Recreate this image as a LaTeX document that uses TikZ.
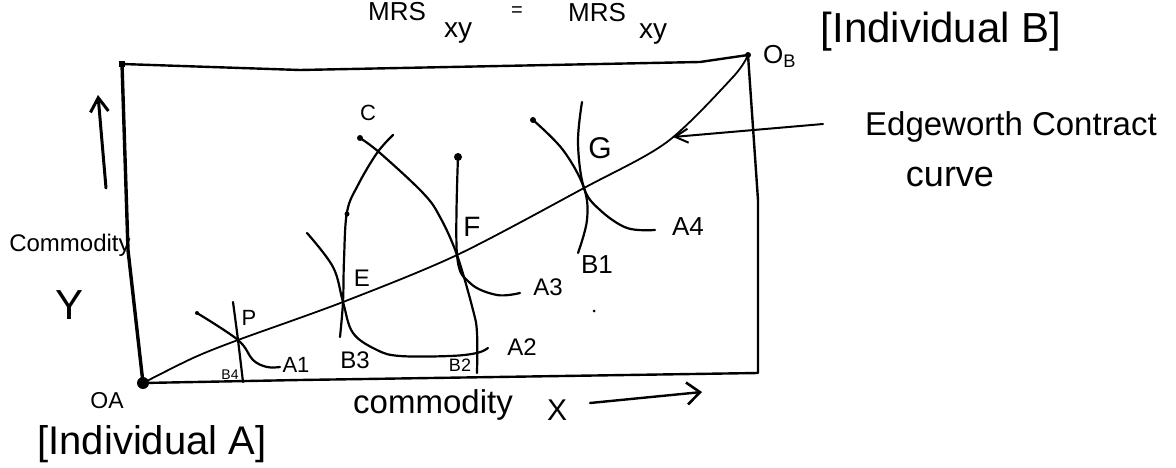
\documentclass[tikz,border=0pt]{standalone}
\usepackage{fontspec}
\setmainfont{Liberation Sans}
\usetikzlibrary{arrows.meta}
\newcommand\fsz[1]{\fontsize{#1}{#1}\selectfont}
\begin{document}
\begin{tikzpicture}[x=1pt,y=-1pt,
  frame/.style={line width=2.4pt, line cap=round, line join=round},
  curveln/.style={line width=2.2pt, line cap=round},
  contract/.style={line width=1.8pt, line cap=round},
  lbl/.style={inner sep=0pt},
  arr/.style={line width=2.4pt, line cap=round},
  dotc/.style={fill=black, circle, inner sep=0pt}
]
\useasboundingbox (0,0) rectangle (1176,468);
\clip (0,0) rectangle (1176,468);

% key points
\coordinate (TL) at (122,64);
\coordinate (OA) at (143,383);
\coordinate (OB) at (748,55);
\coordinate (BR) at (758,373);
\coordinate (L1) at (128,250);
\coordinate (T1) at (300,70);
\coordinate (T2) at (700,62);
\coordinate (R1) at (758,200);
\coordinate (D1) at (300,380);
\coordinate (P) at (238,340);
\coordinate (E) at (343,302);
\coordinate (F) at (457,255);
\coordinate (G) at (584,188);

% box
\draw[frame] (OA) -- (D1) -- (BR) -- (R1) -- (OB) -- (T2) -- (T1) -- (TL);
\draw[frame, line width=3.4pt] (TL) -- (L1) -- (OA);

% contract curve
\draw[contract] plot[smooth, tension=0.5] coordinates {(OA) (193,358) (P) (E) (F) (G) (667,142) (733,77) (OB)};

% indifference curves
\draw[curveln] plot[smooth, tension=0.6] coordinates {(197,313) (P) (253,360) (267,367) (280,367)};
\draw[curveln] plot[smooth, tension=0.6] coordinates {(233,302) (P) (243,382)};
\draw[curveln] plot[smooth, tension=0.6] coordinates {(307,233) (333,267) (E) (353,333) (377,350) (400,356) (450,356) (477,353) (488,348)};
\draw[curveln] plot[smooth, tension=0.6] coordinates {(340,337) (E) (344,260) (347,212) (358,185) (377,153) (393,135)};
\draw[curveln] plot[smooth, tension=0.6] coordinates {(360,138) (380,153) (423,193) (440,217) (F) (473,310) (477,333) (477,373)};
\draw[curveln] plot[smooth, tension=0.6] coordinates {(458,157) (F) (470,283) (497,295) (520,293)};
\draw[curveln] plot[smooth, tension=0.6] coordinates {(533,120) (563,150) (G) (587,220) (578,253)};
\draw[curveln] plot[smooth, tension=0.6] coordinates {(582,102) (578,143) (G) (600,210) (627,228) (655,230)};

% dots
\node[dotc, minimum size=12pt] (dOA) at (OA) {};
\node[dotc, minimum size=6pt] (dOB) at (OB) {};
\node[fill=black, inner sep=0pt, minimum size=6pt] (dTL) at (TL) {};
\node[dotc, minimum size=6pt] (d1) at (360,138) {};
\node[dotc, minimum size=8pt] (d2) at (458,157) {};
\node[dotc, minimum size=6pt] (d3) at (533,120) {};
\node[dotc, minimum size=5pt] (d4) at (347,214) {};
\node[dotc, minimum size=4pt] (d5) at (197,313) {};
\node[dotc, minimum size=3pt] (d6) at (594,311) {};

% point labels
\node[lbl, font=\fsz{22}] (lC) at (368,113) {C};
\node[lbl, font=\fsz{24}] (lE) at (362,278) {E};
\node[lbl, font=\fsz{28}] (lF) at (472,227) {F};
\node[lbl, font=\fsz{30}] (lG) at (600,148) {G};
\node[lbl, font=\fsz{22}] (lP) at (249,318) {P};
\node[lbl, font=\fsz{22}] (lA1) at (296,365) {A1};
\node[lbl, font=\fsz{14}] (lB4) at (230,375) {B4};
\node[lbl, font=\fsz{24}] (lB3) at (355,360) {B3};
\node[lbl, font=\fsz{18}] (lB2) at (460,365) {B2};
\node[lbl, font=\fsz{24}] (lA2) at (522,347) {A2};
\node[lbl, font=\fsz{24}] (lA3) at (548,287) {A3};
\node[lbl, font=\fsz{26}] (lB1) at (597,265) {B1};
\node[lbl, font=\fsz{26}] (lA4) at (688,227) {A4};

% top formula
\node[lbl, font=\fsz{26}, anchor=base] (mrs1) at (397,21) {MRS};
\node[lbl, font=\fsz{28}] (xy1) at (458,33) {xy};
\node[lbl, font=\fsz{20}] (eq) at (517,12) {=};
\node[lbl, font=\fsz{26}, anchor=base] (mrs2) at (597,22) {MRS};
\node[lbl, font=\fsz{28}] (xy2) at (653,34) {xy};

% corner labels
\node[lbl, font=\fsz{26}, anchor=west] (lOB) at (763,56) {O\textsubscript{B}};
\node[lbl, font=\fsz{42}] (indB) at (941,32) {[Individual B]};
\node[lbl, font=\fsz{23}] (lOA) at (107,401) {OA};
\node[lbl, font=\fsz{40}] (indA) at (152,444) {[Individual A]};

% axis labels
\node[lbl, font=\fsz{24}] (cy) at (70,245) {Commodity};
\node[lbl, font=\fsz{42}] (ly) at (70,305) {Y};
\node[lbl, font=\fsz{33}] (cx) at (433,405) {commodity};
\node[lbl, font=\fsz{30}] (lx) at (557,410) {X};

% Edgeworth label
\node[lbl, font=\fsz{33}] (ec1) at (1011,127) {Edgeworth Contract};
\node[lbl, font=\fsz{36}] (ec2) at (950,177) {curve};

% arrows
\coordinate (ya1) at (106,188);
\coordinate (ya2) at (98,95);
\draw[arr, line width=3pt, -{Straight Barb[length=14pt,width=18pt,line width=3pt]}] (ya1) -- (ya2);
\coordinate (xa1) at (590,403);
\coordinate (xa2) at (702,392);
\draw[arr, -{Straight Barb[length=13pt,width=22pt,line width=2.6pt]}] (xa1) -- (xa2);
\coordinate (eca) at (823,124);
\coordinate (ecb) at (673,137);
\draw[arr, line width=2pt, -{Straight Barb[length=13pt,width=14pt,line width=2pt]}] (eca) -- (ecb);
\end{tikzpicture}
\end{document}
